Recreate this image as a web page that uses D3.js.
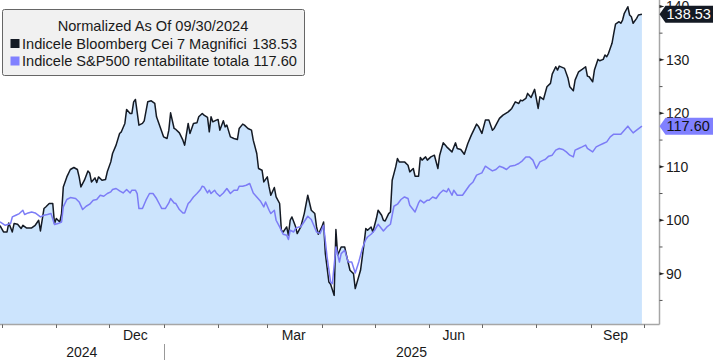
<!DOCTYPE html>
<html>
<head>
<meta charset="utf-8">
<script src="https://cdn.jsdelivr.net/npm/d3@7"></script>
<style>
  html, body { margin: 0; padding: 0; background: #ffffff; }
  svg { display: block; font-family: "Liberation Sans", Arial, sans-serif; }
</style>
</head>
<body>
<svg id="chart" width="714" height="360"></svg>
<script>
// ---------------- DATA ----------------
const legendTitle = "Normalized As Of 09/30/2024";
const seriesNames = ["Indicele Bloomberg Cei 7 Magnifici", "Indicele S&P500 rentabilitate totala"];
const lastValues = [138.53, 117.60];
const yTickValues = [90, 100, 110, 120, 130, 140];
const yMinorTickValues = [85, 95, 105, 115, 125, 135];
const monthLabels = ["Dec", "Mar", "Jun", "Sep"];
const monthLabelDates = ["2024-12-16", "2025-03-16", "2025-06-15", "2025-09-15"];
const yearLabels = ["2024", "2025"];
const yearStartDates = ["2024-09-30", "2025-01-01"];
const axisEndDate = "2025-10-10";

const bmSeries = [
["2024-09-30",99.0],["2024-10-02",97.81],["2024-10-04",97.81],["2024-10-05",99.49],["2024-10-07",97.81],
["2024-10-08",99.38],["2024-10-10",99.25],["2024-10-12",98.45],["2024-10-13",99.06],["2024-10-15",98.56],
["2024-10-18",98.56],["2024-10-20",99.06],["2024-10-22",100.0],["2024-10-23",98.0],["2024-10-25",102.19],
["2024-10-26",102.49],["2024-10-28",103.13],["2024-10-30",103.13],["2024-10-31",99.38],["2024-11-01",100.32],
["2024-11-03",99.68],["2024-11-04",101.25],["2024-11-05",106.24],["2024-11-07",108.11],["2024-11-09",109.49],
["2024-11-11",109.87],["2024-11-13",109.49],["2024-11-14",108.11],["2024-11-15",106.24],["2024-11-17",107.49],
["2024-11-19",109.23],["2024-11-20",108.86],["2024-11-21",107.17],["2024-11-23",107.92],["2024-11-24",107.06],
["2024-11-25",108.11],["2024-11-27",107.49],["2024-11-29",107.62],["2024-11-30",109.05],["2024-12-02",110.92],
["2024-12-03",112.49],["2024-12-05",114.05],["2024-12-07",116.24],["2024-12-08",116.54],["2024-12-10",118.11],
["2024-12-11",120.73],["2024-12-13",119.98],["2024-12-14",119.98],["2024-12-15",122.15],["2024-12-16",122.60],
["2024-12-18",117.79],["2024-12-20",118.11],["2024-12-21",118.60],["2024-12-23",122.15],["2024-12-25",122.34],
["2024-12-27",121.85],["2024-12-28",119.35],["2024-12-30",117.47],["2025-01-01",115.60],["2025-01-03",115.30],
["2025-01-04",116.85],["2025-01-05",120.09],["2025-01-07",117.17],["2025-01-08",116.99],["2025-01-10",116.35],
["2025-01-12",114.98],["2025-01-13",114.05],["2025-01-15",118.11],["2025-01-16",116.24],["2025-01-18",118.11],
["2025-01-20",118.22],["2025-01-21",119.35],["2025-01-23",119.98],["2025-01-24",119.66],["2025-01-26",119.23],
["2025-01-27",116.54],["2025-01-28",119.35],["2025-01-29",118.41],["2025-01-31",118.73],["2025-02-01",118.86],
["2025-02-02",116.85],["2025-02-04",118.60],["2025-02-05",117.47],["2025-02-06",117.79],["2025-02-08",115.60],
["2025-02-10",115.30],["2025-02-12",115.11],["2025-02-13",117.17],["2025-02-15",117.98],["2025-02-16",117.79],
["2025-02-18",117.17],["2025-02-20",116.85],["2025-02-21",114.98],["2025-02-23",112.49],["2025-02-24",109.68],
["2025-02-26",109.36],["2025-02-27",107.17],["2025-03-01",108.11],["2025-03-02",106.24],["2025-03-03",104.68],
["2025-03-05",106.12],["2025-03-06",104.36],["2025-03-08",103.13],["2025-03-09",98.13],["2025-03-10",97.81],
["2025-03-12",98.75],["2025-03-13",97.19],["2025-03-14",100.0],["2025-03-15",100.62],["2025-03-17",98.88],
["2025-03-18",97.51],["2025-03-20",98.75],["2025-03-22",101.25],["2025-03-24",104.68],["2025-03-26",101.87],
["2025-03-28",101.25],["2025-03-29",98.75],["2025-03-30",97.38],["2025-04-01",98.75],["2025-04-02",99.68],
["2025-04-03",93.76],["2025-04-05",88.45],["2025-04-06",88.01],["2025-04-08",85.95],["2025-04-09",98.26],
["2025-04-10",93.45],["2025-04-12",95.00],["2025-04-14",95.00],["2025-04-15",93.45],["2025-04-17",90.64],
["2025-04-19",90.02],["2025-04-20",87.21],["2025-04-23",90.64],["2025-04-25",95.64],["2025-04-26",98.45],
["2025-04-27",98.13],["2025-04-29",98.75],["2025-04-30",97.81],["2025-05-02",100.32],["2025-05-03",101.87],
["2025-05-05",100.94],["2025-05-06",100.0],["2025-05-07",99.87],["2025-05-09",101.25],["2025-05-10",101.55],
["2025-05-11",107.49],["2025-05-13",109.98],["2025-05-14",111.55],["2025-05-15",110.92],["2025-05-18",110.92],
["2025-05-20",110.30],["2025-05-21",109.05],["2025-05-23",109.68],["2025-05-24",108.24],["2025-05-26",108.24],
["2025-05-27",111.74],["2025-05-28",111.24],["2025-05-30",111.85],["2025-05-31",111.24],["2025-06-02",111.85],
["2025-06-04",112.17],["2025-06-06",109.68],["2025-06-07",112.17],["2025-06-09",114.48],["2025-06-11",113.73],
["2025-06-14",112.79],["2025-06-16",114.48],["2025-06-17",113.43],["2025-06-19",113.24],["2025-06-21",112.36],
["2025-06-23",114.36],["2025-06-25",115.92],["2025-06-28",117.98],["2025-06-29",117.60],["2025-07-01",116.24],
["2025-07-03",118.73],["2025-07-05",118.73],["2025-07-07",116.85],["2025-07-08",117.17],["2025-07-11",119.05],
["2025-07-13",119.66],["2025-07-16",120.28],["2025-07-18",120.92],["2025-07-20",122.15],["2025-07-22",121.85],
["2025-07-23",122.47],["2025-07-24",122.34],["2025-07-26",122.79],["2025-07-27",123.73],["2025-07-29",122.98],
["2025-07-31",124.48],["2025-08-02",120.92],["2025-08-03",123.09],["2025-08-05",122.60],["2025-08-07",124.96],
["2025-08-09",125.60],["2025-08-10",127.34],["2025-08-12",128.71],["2025-08-13",128.09],["2025-08-14",128.84],
["2025-08-17",128.41],["2025-08-19",126.54],["2025-08-20",124.96],["2025-08-22",124.21],["2025-08-23",126.22],
["2025-08-25",127.77],["2025-08-27",128.22],["2025-08-29",128.71],["2025-08-30",126.97],["2025-08-31",126.84],
["2025-09-02",125.90],["2025-09-03",128.09],["2025-09-05",130.09],["2025-09-06",129.83],["2025-09-08",130.09],
["2025-09-09",130.90],["2025-09-10",130.58],["2025-09-11",131.22],["2025-09-13",133.09],["2025-09-14",134.96],
["2025-09-15",136.70],["2025-09-17",137.14],["2025-09-18",136.84],["2025-09-19",137.45],["2025-09-20",138.71],
["2025-09-22",139.94],["2025-09-23",138.39],["2025-09-24",138.07],["2025-09-25",136.84],["2025-09-27",137.77],
["2025-09-28",138.39],["2025-09-30",138.53]
];

const spSeries = [
["2024-09-30",99.7],["2024-10-03",99.06],["2024-10-06",99.38],["2024-10-07",100.62],["2024-10-09",100.94],
["2024-10-11",101.25],["2024-10-13",101.87],["2024-10-14",101.07],["2024-10-16",101.37],["2024-10-18",101.55],
["2024-10-20",101.37],["2024-10-23",100.62],["2024-10-25",100.94],["2024-10-27",101.07],["2024-10-29",101.25],
["2024-10-31",99.19],["2024-11-02",99.38],["2024-11-04",99.68],["2024-11-05",102.49],["2024-11-07",103.88],
["2024-11-09",104.25],["2024-11-12",104.06],["2024-11-14",103.43],["2024-11-16",102.00],["2024-11-18",102.62],
["2024-11-20",103.00],["2024-11-22",103.75],["2024-11-24",103.88],["2024-11-26",104.68],["2024-11-28",104.49],
["2024-11-30",105.00],["2024-12-02",105.30],["2024-12-03",105.75],["2024-12-05",105.94],["2024-12-07",105.49],
["2024-12-09",105.11],["2024-12-11",105.75],["2024-12-13",105.11],["2024-12-14",105.62],["2024-12-16",105.62],
["2024-12-17",105.00],["2024-12-18",102.19],["2024-12-20",102.19],["2024-12-22",103.75],["2024-12-24",105.00],
["2024-12-26",105.00],["2024-12-28",104.06],["2024-12-30",102.81],["2024-12-31",102.19],["2025-01-02",102.19],
["2025-01-04",103.24],["2025-01-05",104.06],["2025-01-07",103.24],["2025-01-08",103.13],["2025-01-10",102.00],
["2025-01-12",101.37],["2025-01-13",101.37],["2025-01-15",103.13],["2025-01-16",103.43],["2025-01-18",104.36],
["2025-01-20",105.00],["2025-01-22",105.75],["2025-01-23",106.37],["2025-01-24",106.24],["2025-01-26",105.11],
["2025-01-27",105.62],["2025-01-28",105.00],["2025-01-30",105.62],["2025-01-31",105.11],["2025-02-02",104.49],
["2025-02-04",105.11],["2025-02-06",105.94],["2025-02-08",105.00],["2025-02-10",105.62],["2025-02-12",105.62],
["2025-02-13",106.37],["2025-02-15",106.37],["2025-02-17",106.55],["2025-02-19",106.87],["2025-02-21",105.11],
["2025-02-23",104.36],["2025-02-25",103.61],["2025-02-27",102.49],["2025-02-28",103.43],["2025-03-02",101.87],
["2025-03-03",101.25],["2025-03-05",101.87],["2025-03-06",100.00],["2025-03-08",98.75],["2025-03-10",97.38],
["2025-03-12",97.19],["2025-03-13",96.39],["2025-03-14",98.13],["2025-03-16",97.81],["2025-03-17",98.45],
["2025-03-19",98.75],["2025-03-20",98.75],["2025-03-21",99.25],["2025-03-24",100.75],["2025-03-26",100.13],
["2025-03-29",97.81],["2025-03-31",97.51],["2025-04-02",99.06],["2025-04-04",93.13],["2025-04-06",88.45],
["2025-04-07",88.15],["2025-04-09",95.00],["2025-04-11",92.19],["2025-04-12",93.76],["2025-04-14",94.38],
["2025-04-16",92.19],["2025-04-18",92.19],["2025-04-20",90.13],["2025-04-22",92.19],["2025-04-24",94.70],
["2025-04-26",96.39],["2025-04-27",96.87],["2025-04-29",97.38],["2025-05-01",98.13],["2025-05-03",99.25],
["2025-05-06",98.00],["2025-05-08",98.75],["2025-05-10",99.25],["2025-05-12",102.62],["2025-05-14",103.00],
["2025-05-16",103.88],["2025-05-18",104.36],["2025-05-20",104.06],["2025-05-21",102.81],["2025-05-24",101.55],
["2025-05-26",103.24],["2025-05-27",103.75],["2025-05-29",103.24],["2025-05-31",103.75],["2025-06-01",103.75],
["2025-06-03",104.36],["2025-06-05",104.06],["2025-06-07",105.00],["2025-06-09",105.62],["2025-06-11",105.30],
["2025-06-12",105.94],["2025-06-14",104.68],["2025-06-15",105.62],["2025-06-17",104.68],["2025-06-20",104.68],
["2025-06-22",105.62],["2025-06-24",106.55],["2025-06-26",107.17],["2025-06-28",108.43],["2025-07-01",108.86],
["2025-07-03",110.11],["2025-07-05",109.68],["2025-07-07",109.23],["2025-07-09",109.49],["2025-07-11",110.11],
["2025-07-13",109.87],["2025-07-15",109.49],["2025-07-17",110.11],["2025-07-20",110.30],["2025-07-22",110.62],
["2025-07-24",111.11],["2025-07-26",111.85],["2025-07-28",111.85],["2025-07-30",111.24],["2025-08-01",109.68],
["2025-08-03",110.92],["2025-08-05",111.24],["2025-08-06",111.37],["2025-08-08",111.99],["2025-08-10",112.17],
["2025-08-12",113.11],["2025-08-14",113.43],["2025-08-16",113.24],["2025-08-18",112.79],["2025-08-20",112.17],
["2025-08-22",111.85],["2025-08-23",113.11],["2025-08-25",113.43],["2025-08-27",113.73],["2025-08-29",114.05],
["2025-08-30",113.43],["2025-09-02",112.79],["2025-09-04",113.73],["2025-09-06",114.05],["2025-09-08",114.36],
["2025-09-10",114.66],["2025-09-12",115.60],["2025-09-14",116.11],["2025-09-16",116.11],["2025-09-18",116.11],
["2025-09-20",116.85],["2025-09-22",117.60],["2025-09-23",117.17],["2025-09-25",116.35],["2025-09-27",116.85],
["2025-09-30",117.60]
];

// ---------------- STYLE ----------------
const colBM = "#141a24";
const colSP = "#7c7cf6";
const colFill = "#cce4fd";
const colAxis = "#a6a6a6";
const colText = "#1a1a1a";

const W = 714, H = 360;
const plotRight = 659.5, plotBottom = 324.5;

const parse = d3.timeParse("%Y-%m-%d");
const bm = bmSeries.map(d => ({ date: parse(d[0]), value: d[1] }));
const sp = spSeries.map(d => ({ date: parse(d[0]), value: d[1] }));

const x = d3.scaleTime()
  .domain([parse(yearStartDates[0]), parse(axisEndDate)])
  .range([0, plotRight]);
const y = d3.scaleLinear()
  .domain([80.5, 141.2])
  .range([plotBottom, 0]);

const svg = d3.select("#chart");

svg.append("defs").append("clipPath").attr("id", "plotClip")
  .append("rect").attr("x", 0).attr("y", 0).attr("width", plotRight).attr("height", plotBottom);

const plot = svg.append("g").attr("clip-path", "url(#plotClip)");

// area under Bloomberg series
plot.append("path")
  .datum(bm)
  .attr("fill", colFill)
  .attr("d", d3.area().x(d => x(d.date)).y0(plotBottom).y1(d => y(d.value)));

const line = d3.line().x(d => x(d.date)).y(d => y(d.value));

plot.append("path").datum(bm)
  .attr("fill", "none").attr("stroke", colBM).attr("stroke-width", 1.5)
  .attr("stroke-linejoin", "round").attr("d", line);

plot.append("path").datum(sp)
  .attr("fill", "none").attr("stroke", colSP).attr("stroke-width", 1.5)
  .attr("stroke-linejoin", "round").attr("d", line);

// axes frame
svg.append("line").attr("x1", 0).attr("x2", plotRight).attr("y1", plotBottom).attr("y2", plotBottom)
  .attr("stroke", colAxis).attr("stroke-width", 1.5);
svg.append("line").attr("x1", plotRight).attr("x2", plotRight).attr("y1", 0).attr("y2", plotBottom)
  .attr("stroke", colAxis).attr("stroke-width", 1.5);

// x month ticks
const monthTicks = x.ticks(d3.timeMonth.every(1));
svg.append("g").selectAll("line").data(monthTicks).join("line")
  .attr("x1", d => Math.round(x(d)) + 0.5).attr("x2", d => Math.round(x(d)) + 0.5)
  .attr("y1", plotBottom).attr("y2", plotBottom + 3.5)
  .attr("stroke", "#666").attr("stroke-width", 1);

// month labels
svg.append("g").selectAll("text").data(monthLabels).join("text")
  .attr("x", (d, i) => x(parse(monthLabelDates[i])))
  .attr("y", 339.5)
  .attr("text-anchor", "middle")
  .attr("font-size", "14px").attr("fill", colText)
  .text(d => d);

// year labels
const yearCenters = [
  (x(parse(yearStartDates[0])) + x(parse(yearStartDates[1]))) / 2,
  (x(parse(yearStartDates[1])) + plotRight) / 2
];
svg.append("g").selectAll("text").data(yearLabels).join("text")
  .attr("x", (d, i) => yearCenters[i])
  .attr("y", 357)
  .attr("text-anchor", "middle")
  .attr("font-size", "14px").attr("fill", colText)
  .text(d => d);
svg.append("line")
  .attr("x1", Math.round(x(parse(yearStartDates[1]))) + 0.5)
  .attr("x2", Math.round(x(parse(yearStartDates[1]))) + 0.5)
  .attr("y1", 344).attr("y2", 360)
  .attr("stroke", "#999").attr("stroke-width", 1);

// y ticks (right)
svg.append("g").selectAll("line").data(yMinorTickValues).join("line")
  .attr("x1", plotRight).attr("x2", plotRight + 3)
  .attr("y1", d => y(d)).attr("y2", d => y(d))
  .attr("stroke", "#555").attr("stroke-width", 1);
svg.append("g").selectAll("path").data(yTickValues).join("path")
  .attr("d", d => `M${plotRight},${y(d) - 1.5}L${plotRight + 5},${y(d)}L${plotRight},${y(d) + 1.5}Z`)
  .attr("fill", "#222");
svg.append("g").selectAll("text").data(yTickValues).join("text")
  .attr("x", 666).attr("y", d => y(d))
  .attr("dy", "0.36em")
  .attr("font-size", "14px").attr("fill", colText)
  .text(d => d);

// last value tags
const tagColors = [colBM, "#8080ff"];
const tagText = ["#ffffff", "#111111"];
[bm, sp].forEach((s, i) => {
  const cy = y(lastValues[i]);
  const g = svg.append("g");
  g.append("path")
    .attr("d", `M${plotRight},${cy}L${plotRight + 6},${cy - 8.5}L713,${cy - 8.5}L713,${cy + 8.5}L${plotRight + 6},${cy + 8.5}Z`)
    .attr("fill", tagColors[i]);
  g.append("text")
    .attr("x", 666.5).attr("y", cy).attr("dy", "0.36em")
    .attr("font-size", "14.5px").attr("fill", tagText[i])
    .text(lastValues[i].toFixed(2));
});

// legend
const lg = svg.append("g");
lg.append("rect").attr("x", 2.5).attr("y", 9.5).attr("width", 302).attr("height", 66)
  .attr("rx", 2).attr("fill", "#f1f1f1").attr("stroke", "#666").attr("stroke-width", 1);
lg.append("text").attr("x", 153).attr("y", 26).attr("dy", "0.36em").attr("text-anchor", "middle")
  .attr("font-size", "14.6px").attr("fill", colText).text(legendTitle);
const legendColors = [colBM, "#8080ff"];
seriesNames.forEach((name, i) => {
  const cy = 43.5 + i * 17.5;
  lg.append("rect").attr("x", 10.5).attr("y", cy - 4.5).attr("width", 9).attr("height", 9)
    .attr("fill", legendColors[i]);
  lg.append("text").attr("x", 22).attr("y", cy).attr("dy", "0.36em")
    .attr("font-size", "14.6px").attr("fill", colText).text(name);
  lg.append("text").attr("x", 297).attr("y", cy).attr("dy", "0.36em").attr("text-anchor", "end")
    .attr("font-size", "14.6px").attr("fill", colText).text(lastValues[i].toFixed(2));
});
</script>
</body>
</html>
